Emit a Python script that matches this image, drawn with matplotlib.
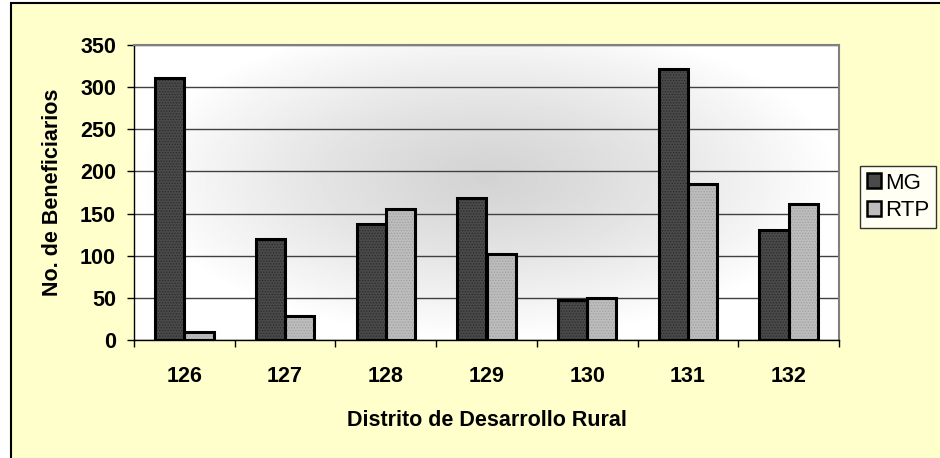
import numpy as np
import matplotlib
matplotlib.use("Agg")
from matplotlib import pyplot as plt
from matplotlib.patches import Rectangle, Patch

plt.rcParams["font.family"] = ["Liberation Sans", "DejaVu Sans"]
plt.rcParams["hatch.linewidth"] = 0.6

# data
districts = ["126", "127", "128", "129", "130", "131", "132"]
mg = [311, 120, 138, 169, 48, 321, 131]
rtp = [10, 29, 155, 102, 50, 185, 161]
series_names = ["MG", "RTP"]

W, H = 940, 458
fs = 15.5
fig = plt.figure(figsize=(W / 100, H / 100), dpi=100)
fig.patch.set_facecolor("white")

# yellow chart area with black frame (cropped at right/bottom)
fig.patches.append(Rectangle((11 / W, -0.05), 1.1, 1 - 3 / H + 0.05,
                             transform=fig.transFigure, facecolor="#FFFFCC",
                             edgecolor="black", linewidth=1.5, zorder=-10))

ax = fig.add_axes([134 / W, 1 - 340 / H, 705 / W, 295 / H])
ax.set_facecolor("none")

# radial-ish grey gradient in the plot area
nx, ny = 400, 200
gx, gy = np.meshgrid(np.linspace(0, 1, nx), np.linspace(0, 1, ny))
r = np.sqrt(((gx - 0.5) / 0.5) ** 2 + ((gy - 0.45) / 0.55) ** 2)
r = np.clip(r, 0, 1)
shade = 0.83 + 0.17 * r ** 1.3
ax.imshow(shade, cmap="gray", vmin=0, vmax=1, extent=[0, 1, 0, 1],
          transform=ax.transAxes, aspect="auto", zorder=0, origin="upper")

x = np.arange(len(districts))
w = 0.29

ax.set_ylim(0, 350)
ax.set_xlim(-0.5, len(districts) - 0.5)
ax.set_yticks(range(0, 351, 50))
ax.yaxis.grid(True, color="#404040", linewidth=1.0, zorder=1)
ax.set_axisbelow(True)

for xs, vals, fc, hc in [(x - w / 2, mg, "#4a4a4a", "#2a2a2a"),
                         (x + w / 2, rtp, "#bdbdbd", "#a0a0a0")]:
    ax.bar(xs, vals, w, color=fc, edgecolor=hc, hatch="......",
           linewidth=0, zorder=3)
    ax.bar(xs, vals, w, fill=False, edgecolor="black", linewidth=2.2, zorder=4)

ax.set_xticks(x)
ax.set_xticklabels(districts, fontsize=fs, fontweight="bold")
ax.tick_params(axis="x", length=0, pad=19)
ax.set_xticks(np.arange(-0.5, len(districts), 1), minor=True)
ax.tick_params(axis="x", which="minor", length=5, width=1, direction="out")
ax.tick_params(axis="y", length=5, width=1, labelsize=fs, pad=8)
for lbl in ax.get_yticklabels():
    lbl.set_fontweight("bold")

for s in ["top", "right"]:
    ax.spines[s].set_color("#808080")
    ax.spines[s].set_linewidth(1.5)
for s in ["left", "bottom"]:
    ax.spines[s].set_color("black")
    ax.spines[s].set_linewidth(1.0)

ax.set_xlabel("Distrito de Desarrollo Rural", fontsize=fs, fontweight="bold",
              labelpad=16)
ax.set_ylabel("No. de Beneficiarios", fontsize=fs, fontweight="bold",
              labelpad=12)

handles = [Patch(facecolor="#4a4a4a", edgecolor="black", linewidth=1.8),
           Patch(facecolor="#bdbdbd", edgecolor="black", linewidth=1.8)]
leg = fig.legend(handles, series_names, loc="upper left",
                 bbox_to_anchor=(860 / W, 1 - 166 / H), fontsize=16,
                 frameon=True, fancybox=False, borderpad=0.3,
                 handlelength=0.65, handleheight=0.65, handletextpad=0.2,
                 labelspacing=0.3, borderaxespad=0)
leg.get_frame().set_edgecolor("black")
leg.get_frame().set_linewidth(1.0)
leg.get_frame().set_facecolor("white")

fig.savefig("out.png", dpi=100)
